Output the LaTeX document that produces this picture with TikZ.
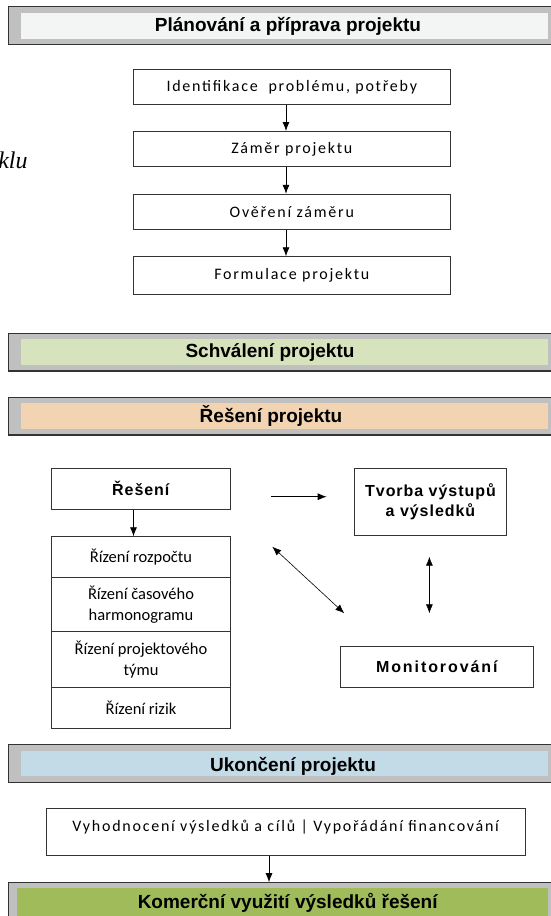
\documentclass[tikz,border=0pt]{standalone}
\usepackage{fontspec}
\setmainfont{Carlito}
\newfontfamily\arial{Liberation Sans}
\newfontfamily\calsp[LetterSpace=11]{Carlito}
\newfontfamily\arsp[LetterSpace=6]{Liberation Sans}
\newfontfamily\arspw[LetterSpace=12]{Liberation Sans}
\newfontfamily\timesit{Liberation Serif}
\usetikzlibrary{arrows.meta}
\definecolor{bandgray}{HTML}{C0C0C0}
\definecolor{planfill}{HTML}{F3F4F4}
\definecolor{schvfill}{HTML}{D7E3BC}
\definecolor{resfill}{HTML}{F2D3B2}
\definecolor{ukonfill}{HTML}{C2DBE6}
\definecolor{komfill}{HTML}{9FBB5A}
\begin{document}
\begin{tikzpicture}[x=1pt,y=-1pt,>={Latex[length=9pt,width=7pt]},line width=0.8pt,
	band/.style={draw=black!80,line width=1.1pt,fill=bandgray,minimum width=551.6pt,inner sep=0pt},
	bandtext/.style={anchor=base,inner sep=0pt,font=\arial\bfseries\fontsize{19}{22}\selectfont},
	stepbox/.style={draw=black!80,fill=white,inner sep=0pt,minimum width=316.5pt,minimum height=35pt,font=\calsp\fontsize{16}{19}\selectfont},
	listbox/.style={draw=black!80,fill=white,inner sep=0pt,minimum width=179pt,align=center,font=\fontsize{16.5}{20.5}\selectfont},
	boldbox/.style={draw=black!80,fill=white,inner sep=0pt,align=center,font=\arsp\bfseries\fontsize{16}{19.7}\selectfont}]
	\useasboundingbox (0,0) rectangle (551,916);
	% faze projektu
	\foreach \n/\ya/\yb/\yc/\yd/\xa/\col in {planbar/6.7/44.3/12.7/39/20.5/planfill,
		schvbar/333.3/371/339/365/20.5/schvfill, resbar/397.3/435/403/429/20.5/resfill,
		ukonbar/744.3/782.3/750.7/775.7/20.5/ukonfill, kombar/882.7/940/888.3/940/16.7/komfill}
	{
		\node[band,minimum height={\yb-\ya}] (\n) at (284.2,{(\ya+\yb)/2}) {};
		\fill[\col] (\xa,\yc) rectangle (548.3,\yd);
	}
	\node[bandtext] (plantext) at (288,31.7) {Plánování a příprava projektu};
	\node[bandtext] (schvtext) at (270,357) {Schválení projektu};
	\node[bandtext] (restext) at (271,422.7) {Řešení projektu};
	\node[bandtext] (ukontext) at (293,771.5) {Ukončení projektu};
	\node[bandtext] (komtext) at (287.7,908.3) {Komerční využití výsledků řešení};
	\node[anchor=base east,inner sep=0pt,font=\timesit\itshape\fontsize{24}{28}\selectfont] (klu) at (28,168) {klu};
	% planovani
	\node[stepbox] (ident) at (291.8,87.2) {Identifikace~ problému, potřeby};
	\node[stepbox] (zamer) at (291.8,148.9) {Záměr projektu};
	\node[stepbox] (overeni) at (291.8,211.7) {Ověření záměru};
	\node[stepbox,minimum height=37.6pt] (formulace) at (291.8,275.5) {Formulace projektu};
	\foreach \a/\b in {ident/zamer,zamer/overeni,overeni/formulace}
	\draw[->] ([xshift=-5.8pt]\a.south) -- ([xshift=-5.8pt]\b.north);
	% reseni
	\node[boldbox,minimum width=178.4pt,minimum height=41pt] (reseni) at (140.8,488.8) {Řešení};
	\node[listbox,minimum height=41pt] (rozpocet) at (141,557.2) {Řízení rozpočtu};
	\node[listbox,minimum height=54pt] (harmonogram) at (141,604.7) {Řízení časového\\harmonogramu};
	\node[listbox,minimum height=55.6pt] (tym) at (141,659.5) {Řízení projektového\\týmu};
	\node[listbox,minimum height=41pt] (rizika) at (141,707.8) {Řízení rizik};
	\node[boldbox,minimum width=152.4pt,minimum height=67.4pt] (tvorba) at (430.5,502) {Tvorba výstupů\\a výsledků};
	\node[boldbox,font=\arspw\bfseries\fontsize{16}{19.7}\selectfont,minimum width=193.3pt,minimum height=41pt] (monitor) at (436.8,667.2) {Monitorování};
	\draw[->] ([xshift=-7.3pt]reseni.south) -- ([xshift=-7.3pt]reseni.south |- rozpocet.north);
	\path
	(271,496.7) coordinate (r1)
	(326.7,496.7) coordinate (r2)
	(272.3,546.7) coordinate (d1)
	(344.3,613.3) coordinate (d2)
	(429.4,556.7) coordinate (v1)
	(429.4,613.3) coordinate (v2)
	;
	\draw[->] (r1)--(r2);
	\draw[<->,line width=0.6pt] (d1)--(d2);
	\draw[<->,line width=0.6pt] (v1)--(v2);
	% ukonceni
	\node[stepbox,minimum width=479.3pt,text height=22.7pt,text depth=24.7pt] (vyhod) at (285.7,832) {Vyhodnocení výsledků a cílů | Vypořádání financování};
	\draw[->] ([xshift=-16.7pt]vyhod.south) -- ([xshift=-16.7pt]vyhod.south |- kombar.north);
\end{tikzpicture}
\end{document}
